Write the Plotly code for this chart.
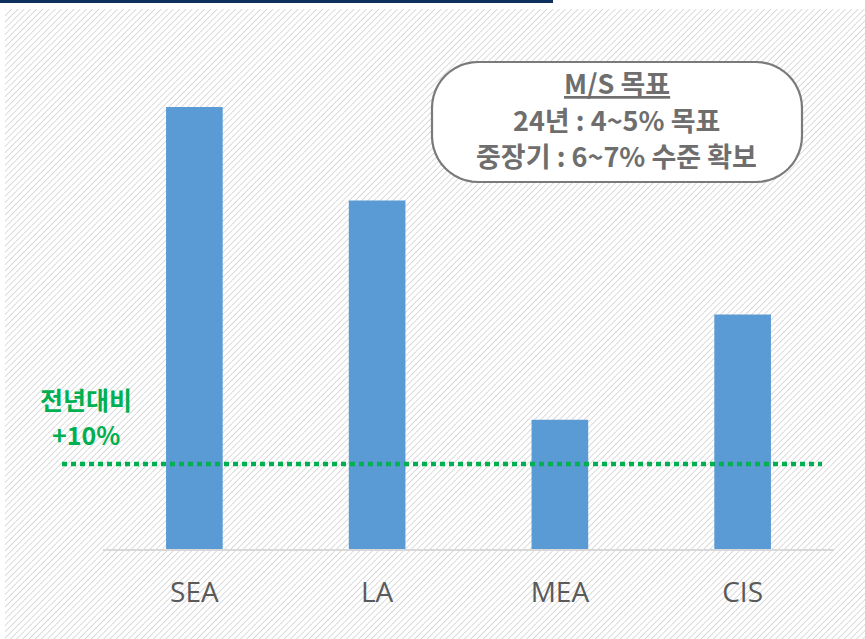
import base64
import math
import plotly.graph_objects as go

# Regional growth vs. previous year (%)
regions = ["SEA", "LA", "MEA", "CIS"]
growth = [52.0, 41.0, 15.2, 27.6]
baseline_growth = 10.0  # 전년대비 +10% reference line

goal_title = "M/S 목표"
goal_lines = ["24년 : 4~5% 목표", "중장기 : 6~7% 수준 확보"]
ref_label = ["전년대비", "+10%"]

W, H = 865, 639
L, R, T, B = 103, 31, 60, 90
PW, PH = W - L - R, H - T - B
Y_MAX = PH / 8.5


def px(x):
    return (x - L) / PW


def py(y):
    return (H - B - y) / PH


BLUE = "#5b9bd5"
GREEN = "#00b050"
GREY_TXT = "#6e6e6e"

# diagonal hatch background as an inline SVG
hx0, hy0 = 5, 9
hw, hh = W - hx0, H - hy0
svg = (
    f'<svg xmlns="http://www.w3.org/2000/svg" width="{hw}" height="{hh}">'
    '<defs><pattern id="h" width="4.4" height="4.4" patternUnits="userSpaceOnUse" '
    'patternTransform="rotate(45)">'
    '<line x1="0" y1="0" x2="0" y2="4.4" stroke="#d2d2d2" stroke-width="1.6"/>'
    '</pattern></defs>'
    f'<rect width="{hw}" height="{hh}" fill="#ffffff"/>'
    f'<rect width="{hw}" height="{hh}" fill="url(#h)"/></svg>'
)
svg_uri = "data:image/svg+xml;base64," + base64.b64encode(svg.encode()).decode()

fig = go.Figure()
fig.add_trace(go.Bar(
    x=regions, y=growth, width=0.31,
    marker=dict(color=BLUE, line=dict(width=0)),
    hoverinfo="skip",
))

fig.add_layout_image(dict(
    source=svg_uri, xref="paper", yref="paper",
    x=px(hx0), y=py(hy0), sizex=hw / PW, sizey=hh / PH,
    xanchor="left", yanchor="top", sizing="stretch", layer="below",
))

shapes = []
# navy strip along the top edge
shapes.append(dict(type="rect", xref="paper", yref="paper",
                   x0=px(0), x1=px(553), y0=py(0), y1=py(3),
                   fillcolor="#0f2f5e", line=dict(width=0)))
# dotted +10% reference line
shapes.append(dict(type="line", xref="paper", yref="y",
                   x0=px(62), x1=px(822), y0=baseline_growth, y1=baseline_growth,
                   line=dict(color=GREEN, width=4.5, dash="5px,4px")))

# rounded callout box
bx0, bx1, by0, by1, rad = 432, 802, 62, 182, 46
pts = []
for cx, cy, a0 in [(bx1 - rad, by0 + rad, -90), (bx1 - rad, by1 - rad, 0),
                   (bx0 + rad, by1 - rad, 90), (bx0 + rad, by0 + rad, 180)]:
    for k in range(13):
        a = math.radians(a0 + 90 * k / 12)
        pts.append((cx + rad * math.cos(a), cy + rad * math.sin(a)))
path = "M " + " L ".join(f"{px(x):.5f},{py(y):.5f}" for x, y in pts) + " Z"
shapes.append(dict(type="path", xref="paper", yref="paper", path=path,
                   fillcolor="#ffffff", line=dict(color="#7a7a7a", width=2.2)))

annotations = []
kr_font = "Noto Sans CJK KR"


def label(x, y, text, size, color):
    return dict(xref="paper", yref="paper", x=px(x), y=py(y), text=text,
                showarrow=False, xanchor="center", yanchor="middle",
                font=dict(family=kr_font, size=size, color=color))


annotations.append(label(617, 82, f"<b><u>{goal_title}</u></b>", 27, GREY_TXT))
for i, line in enumerate(goal_lines):
    annotations.append(label(616, 119 + 36 * i, f"<b>{line}</b>", 27, GREY_TXT))
for i, line in enumerate(ref_label):
    annotations.append(label(86, 399 + 35 * i, f"<b>{line}</b>", 25, GREEN))

fig.update_layout(
    width=W, height=H,
    margin=dict(l=L, r=R, t=T, b=B),
    paper_bgcolor="#ffffff", plot_bgcolor="rgba(0,0,0,0)",
    showlegend=False,
    shapes=shapes, annotations=annotations,
    xaxis=dict(showgrid=False, zeroline=False, showline=True,
               linecolor="#d9d9d9", linewidth=2, ticks="",
               ticklabelstandoff=17,
               tickfont=dict(family="Open Sans", size=28, color="#5a5a5a")),
    yaxis=dict(range=[0, Y_MAX], visible=False, showgrid=False, zeroline=False),
)

fig.write_html("out.html")
